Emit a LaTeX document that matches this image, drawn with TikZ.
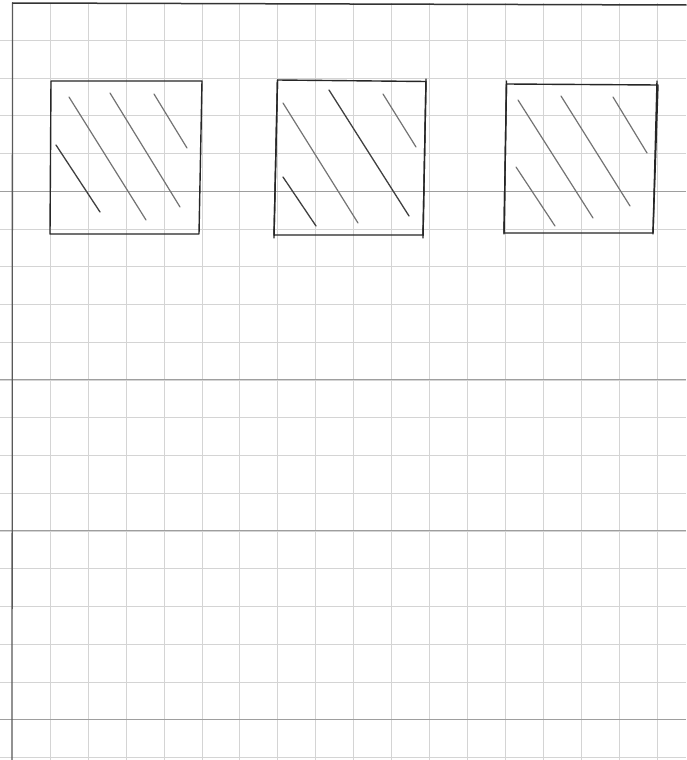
\documentclass[tikz,border=0pt]{standalone}
\begin{document}
\begin{tikzpicture}[x=1pt,y=-1pt,
  gridline/.style={draw=black!17,line width=0.45pt},
  gridbold/.style={draw=black!38,line width=0.6pt},
  frameline/.style={draw=black!80,line width=1.5pt,line cap=round},
  boxline/.style={draw=black!85,line width=1.4pt,line cap=round,line join=round},
  hatchdark/.style={draw=black!75,line width=1.3pt,line cap=round},
  hatchlight/.style={draw=black!55,line width=1.2pt,line cap=round}]
\fill[white] (0,0) rectangle (686,760);
\useasboundingbox (0,0) rectangle (686,760);
% grid
\foreach \k in {0,...,16} {\draw[gridline] ({50+37.94*\k},3) -- ({50+37.94*\k},760);}
\foreach \k in {0,...,19} {\draw[gridline] (0,{40+37.75*\k}) -- (686,{40+37.75*\k});}
\foreach \k in {4,9,13,18} {\draw[gridbold] (0,{40+37.75*\k}) -- (686,{40+37.75*\k});}
% margin and top line
\coordinate (mtop) at (12.5,3);
\coordinate (mbot) at (12,760);
\coordinate (tright) at (686,5);
\draw[draw=black!65,line width=1.3pt] (mtop) -- (mbot);
\draw[frameline] (mtop) -- (tright);
% square 1
\coordinate (a1) at (51,81); \coordinate (a2) at (202,81);
\coordinate (a3) at (199,234); \coordinate (a4) at (50,234);
\draw[boxline] (a1) -- (a2) -- (a3) -- (a4) -- cycle;
\draw[hatchdark] (56,145) -- (100,212);
\draw[hatchlight] (69,97) -- (146,220);
\draw[hatchlight] (110,93) -- (180,207);
\draw[hatchlight] (154,94) -- (187,148);
% square 2
\coordinate (b1) at (277.5,80); \coordinate (b2) at (426,81.5);
\coordinate (b3) at (423,235); \coordinate (b4) at (274,235);
\draw[boxline] (b1) -- (b2) -- (b3) -- (b4) -- cycle;
\draw[boxline] (277.5,80) -- (274,238);
\draw[boxline] (426,79) -- (423,238);
\draw[hatchdark] (283,177) -- (316,226);
\draw[hatchlight] (283,103) -- (358,223);
\draw[hatchdark] (329,90) -- (409,216);
\draw[hatchlight] (383,94) -- (416,147);
% square 3
\coordinate (c1) at (506.5,84); \coordinate (c2) at (658,85);
\coordinate (c3) at (653,233); \coordinate (c4) at (504,233);
\draw[boxline] (c1) -- (c2) -- (c3) -- (c4) -- cycle;
\draw[boxline] (506.5,81) -- (504,234);
\draw[boxline] (657,81) -- (653,234);
\draw[hatchlight] (516,167) -- (555,226);
\draw[hatchlight] (518,100) -- (593,218);
\draw[hatchlight] (561,96) -- (630,206);
\draw[hatchlight] (613,97) -- (647,153);
\end{tikzpicture}
\end{document}
